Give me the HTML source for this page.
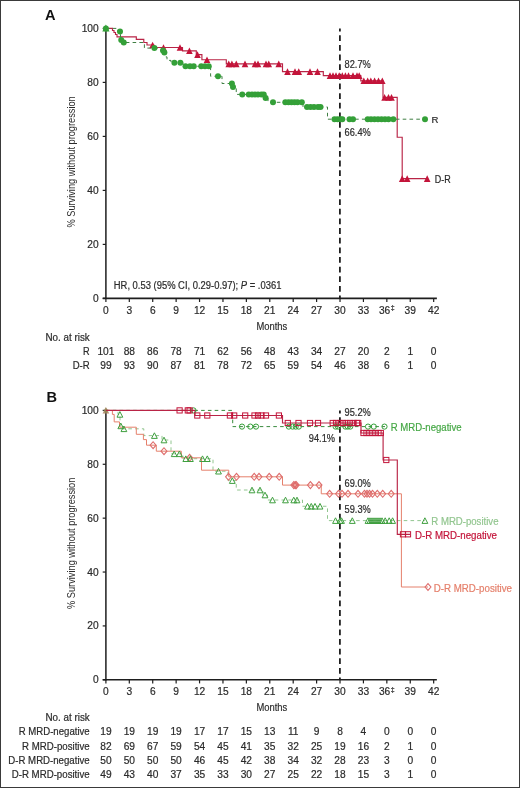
<!DOCTYPE html>
<html><head><meta charset="utf-8"><title>PFS</title>
<style>html,body{margin:0;padding:0;background:#fff;}body{width:520px;height:788px;overflow:hidden;}svg{display:block;will-change:transform;}</style>
</head><body>
<svg width="520" height="788" viewBox="0 0 520 788" font-family='"Liberation Sans", sans-serif'>
<rect x="0" y="0" width="520" height="788" fill="#fff"/>
<text x="45.00" y="20.00" font-size="14.6" text-anchor="start" fill="#111" font-weight="bold" >A</text>
<line x1="105.9" y1="28.40" x2="105.9" y2="299.10" stroke="#1e1e1e" stroke-width="1.5"/>
<line x1="102.70" y1="298.4" x2="436.87" y2="298.4" stroke="#1e1e1e" stroke-width="1.6"/>
<line x1="102.70" y1="298.40" x2="105.9" y2="298.40" stroke="#1e1e1e" stroke-width="1.2"/>
<text x="98.70" y="301.90" font-size="10.2" text-anchor="end" fill="#2b2b2b" stroke="#2b2b2b" stroke-width="0.2" >0</text>
<line x1="102.70" y1="244.40" x2="105.9" y2="244.40" stroke="#1e1e1e" stroke-width="1.2"/>
<text x="98.70" y="247.90" font-size="10.2" text-anchor="end" fill="#2b2b2b" stroke="#2b2b2b" stroke-width="0.2" >20</text>
<line x1="102.70" y1="190.40" x2="105.9" y2="190.40" stroke="#1e1e1e" stroke-width="1.2"/>
<text x="98.70" y="193.90" font-size="10.2" text-anchor="end" fill="#2b2b2b" stroke="#2b2b2b" stroke-width="0.2" >40</text>
<line x1="102.70" y1="136.40" x2="105.9" y2="136.40" stroke="#1e1e1e" stroke-width="1.2"/>
<text x="98.70" y="139.90" font-size="10.2" text-anchor="end" fill="#2b2b2b" stroke="#2b2b2b" stroke-width="0.2" >60</text>
<line x1="102.70" y1="82.40" x2="105.9" y2="82.40" stroke="#1e1e1e" stroke-width="1.2"/>
<text x="98.70" y="85.90" font-size="10.2" text-anchor="end" fill="#2b2b2b" stroke="#2b2b2b" stroke-width="0.2" >80</text>
<line x1="102.70" y1="28.40" x2="105.9" y2="28.40" stroke="#1e1e1e" stroke-width="1.2"/>
<text x="98.70" y="31.90" font-size="10.2" text-anchor="end" fill="#2b2b2b" stroke="#2b2b2b" stroke-width="0.2" >100</text>
<line x1="105.90" y1="298.4" x2="105.90" y2="302.00" stroke="#1e1e1e" stroke-width="1.2"/>
<text x="105.90" y="313.90" font-size="10.2" text-anchor="middle" fill="#2b2b2b" stroke="#2b2b2b" stroke-width="0.2" >0</text>
<line x1="129.31" y1="298.4" x2="129.31" y2="302.00" stroke="#1e1e1e" stroke-width="1.2"/>
<text x="129.31" y="313.90" font-size="10.2" text-anchor="middle" fill="#2b2b2b" stroke="#2b2b2b" stroke-width="0.2" >3</text>
<line x1="152.72" y1="298.4" x2="152.72" y2="302.00" stroke="#1e1e1e" stroke-width="1.2"/>
<text x="152.72" y="313.90" font-size="10.2" text-anchor="middle" fill="#2b2b2b" stroke="#2b2b2b" stroke-width="0.2" >6</text>
<line x1="176.14" y1="298.4" x2="176.14" y2="302.00" stroke="#1e1e1e" stroke-width="1.2"/>
<text x="176.14" y="313.90" font-size="10.2" text-anchor="middle" fill="#2b2b2b" stroke="#2b2b2b" stroke-width="0.2" >9</text>
<line x1="199.55" y1="298.4" x2="199.55" y2="302.00" stroke="#1e1e1e" stroke-width="1.2"/>
<text x="199.55" y="313.90" font-size="10.2" text-anchor="middle" fill="#2b2b2b" stroke="#2b2b2b" stroke-width="0.2" >12</text>
<line x1="222.96" y1="298.4" x2="222.96" y2="302.00" stroke="#1e1e1e" stroke-width="1.2"/>
<text x="222.96" y="313.90" font-size="10.2" text-anchor="middle" fill="#2b2b2b" stroke="#2b2b2b" stroke-width="0.2" >15</text>
<line x1="246.37" y1="298.4" x2="246.37" y2="302.00" stroke="#1e1e1e" stroke-width="1.2"/>
<text x="246.37" y="313.90" font-size="10.2" text-anchor="middle" fill="#2b2b2b" stroke="#2b2b2b" stroke-width="0.2" >18</text>
<line x1="269.78" y1="298.4" x2="269.78" y2="302.00" stroke="#1e1e1e" stroke-width="1.2"/>
<text x="269.78" y="313.90" font-size="10.2" text-anchor="middle" fill="#2b2b2b" stroke="#2b2b2b" stroke-width="0.2" >21</text>
<line x1="293.20" y1="298.4" x2="293.20" y2="302.00" stroke="#1e1e1e" stroke-width="1.2"/>
<text x="293.20" y="313.90" font-size="10.2" text-anchor="middle" fill="#2b2b2b" stroke="#2b2b2b" stroke-width="0.2" >24</text>
<line x1="316.61" y1="298.4" x2="316.61" y2="302.00" stroke="#1e1e1e" stroke-width="1.2"/>
<text x="316.61" y="313.90" font-size="10.2" text-anchor="middle" fill="#2b2b2b" stroke="#2b2b2b" stroke-width="0.2" >27</text>
<line x1="340.02" y1="298.4" x2="340.02" y2="302.00" stroke="#1e1e1e" stroke-width="1.2"/>
<text x="340.02" y="313.90" font-size="10.2" text-anchor="middle" fill="#2b2b2b" stroke="#2b2b2b" stroke-width="0.2" >30</text>
<line x1="363.43" y1="298.4" x2="363.43" y2="302.00" stroke="#1e1e1e" stroke-width="1.2"/>
<text x="363.43" y="313.90" font-size="10.2" text-anchor="middle" fill="#2b2b2b" stroke="#2b2b2b" stroke-width="0.2" >33</text>
<line x1="386.84" y1="298.4" x2="386.84" y2="302.00" stroke="#1e1e1e" stroke-width="1.2"/>
<text x="384.64" y="313.90" font-size="10.2" text-anchor="middle" fill="#2b2b2b" stroke="#2b2b2b" stroke-width="0.2" >36</text>
<text x="392.64" y="310.40" font-size="7.0" text-anchor="middle" fill="#2b2b2b" stroke="#2b2b2b" stroke-width="0.2" >&#8225;</text>
<line x1="410.26" y1="298.4" x2="410.26" y2="302.00" stroke="#1e1e1e" stroke-width="1.2"/>
<text x="410.26" y="313.90" font-size="10.2" text-anchor="middle" fill="#2b2b2b" stroke="#2b2b2b" stroke-width="0.2" >39</text>
<line x1="433.67" y1="298.4" x2="433.67" y2="302.00" stroke="#1e1e1e" stroke-width="1.2"/>
<text x="433.67" y="313.90" font-size="10.2" text-anchor="middle" fill="#2b2b2b" stroke="#2b2b2b" stroke-width="0.2" >42</text>
<text x="271.90" y="329.80" font-size="11.6" text-anchor="middle" fill="#2b2b2b" stroke="#2b2b2b" stroke-width="0.2" textLength="30.8" lengthAdjust="spacingAndGlyphs" >Months</text>
<text x="0" y="0" font-size="11" fill="#2b2b2b" text-anchor="middle" textLength="131.3" lengthAdjust="spacingAndGlyphs" transform="translate(75.4 161.90) rotate(-90)">% Surviving without progression</text>
<line x1="339.9" y1="28.40" x2="339.9" y2="298.40" stroke="#1e1e1e" stroke-width="1.8" stroke-dasharray="5.8 3.84" stroke-dashoffset="2.74"/>
<text x="113.8" y="289.3" font-size="10.0" fill="#2b2b2b" stroke="#2b2b2b" stroke-width="0.2" textLength="167.6" lengthAdjust="spacingAndGlyphs">HR, 0.53 (95% CI, 0.29-0.97); <tspan font-style="italic">P</tspan> = .0361</text>
<path d="M105.9,28.4 H112.5 V30.5 H114 V32.5 H115.5 V34.5 H117 V36.9 H136.3 V39.4 H143.8 V42.5 H147 V45 H153.8 V47.5 H182.5 V50.8 H196.3 V54.6 H201.9 V59.7 H226.3 V63.9 H282.5 V71.6 H323.3 V75.6 H360.8 V80.8 H383 V97.4 H397.2 V137.2 H402.2 V178.6 H427.2" fill="none" stroke="#b92446" stroke-width="1.15" />
<path d="M105.9,28.4 H118 V31.5 H120.5 V40 H122.5 V42.5 H144.4 V48.1 H161.5 V50.5 H163.5 V52.5 H165.5 V56.9 H167 V60.4 H171 V62.75 H183 V66.25 H210.6 V76.25 H222 V83.5 H232.5 V86.9 H236.25 V94.4 H264.5 V98 H268 V102.3 H303 V107 H327.5 V119.2 H425" fill="none" stroke="#3f7f43" stroke-width="1.0" stroke-dasharray="3.6 3.2" />
<polygon points="149.30,48.30 152.60,41.70 155.90,48.30" fill="#c3143a"/>
<polygon points="160.20,50.80 163.50,44.20 166.80,50.80" fill="#c3143a"/>
<polygon points="176.70,50.80 180.00,44.20 183.30,50.80" fill="#c3143a"/>
<polygon points="186.10,54.10 189.40,47.50 192.70,54.10" fill="#c3143a"/>
<polygon points="194.20,57.90 197.50,51.30 200.80,57.90" fill="#c3143a"/>
<polygon points="203.70,63.00 207.00,56.40 210.30,63.00" fill="#c3143a"/>
<polygon points="225.45,67.20 228.75,60.60 232.05,67.20" fill="#c3143a"/>
<polygon points="228.60,67.20 231.90,60.60 235.20,67.20" fill="#c3143a"/>
<polygon points="232.95,67.20 236.25,60.60 239.55,67.20" fill="#c3143a"/>
<polygon points="241.70,67.20 245.00,60.60 248.30,67.20" fill="#c3143a"/>
<polygon points="251.70,67.20 255.00,60.60 258.30,67.20" fill="#c3143a"/>
<polygon points="254.70,67.20 258.00,60.60 261.30,67.20" fill="#c3143a"/>
<polygon points="262.70,67.20 266.00,60.60 269.30,67.20" fill="#c3143a"/>
<polygon points="265.45,67.20 268.75,60.60 272.05,67.20" fill="#c3143a"/>
<polygon points="275.45,67.20 278.75,60.60 282.05,67.20" fill="#c3143a"/>
<polygon points="284.20,74.90 287.50,68.30 290.80,74.90" fill="#c3143a"/>
<polygon points="291.70,74.90 295.00,68.30 298.30,74.90" fill="#c3143a"/>
<polygon points="295.45,74.90 298.75,68.30 302.05,74.90" fill="#c3143a"/>
<polygon points="306.70,74.90 310.00,68.30 313.30,74.90" fill="#c3143a"/>
<polygon points="314.20,74.90 317.50,68.30 320.80,74.90" fill="#c3143a"/>
<polygon points="326.70,78.90 330.00,72.30 333.30,78.90" fill="#c3143a"/>
<polygon points="329.70,78.90 333.00,72.30 336.30,78.90" fill="#c3143a"/>
<polygon points="332.70,78.90 336.00,72.30 339.30,78.90" fill="#c3143a"/>
<polygon points="335.90,78.90 339.20,72.30 342.50,78.90" fill="#c3143a"/>
<polygon points="339.00,78.90 342.30,72.30 345.60,78.90" fill="#c3143a"/>
<polygon points="342.10,78.90 345.40,72.30 348.70,78.90" fill="#c3143a"/>
<polygon points="345.20,78.90 348.50,72.30 351.80,78.90" fill="#c3143a"/>
<polygon points="349.70,78.90 353.00,72.30 356.30,78.90" fill="#c3143a"/>
<polygon points="353.70,78.90 357.00,72.30 360.30,78.90" fill="#c3143a"/>
<polygon points="355.90,78.90 359.20,72.30 362.50,78.90" fill="#c3143a"/>
<polygon points="360.50,84.10 363.80,77.50 367.10,84.10" fill="#c3143a"/>
<polygon points="364.40,84.10 367.70,77.50 371.00,84.10" fill="#c3143a"/>
<polygon points="367.50,84.10 370.80,77.50 374.10,84.10" fill="#c3143a"/>
<polygon points="371.30,84.10 374.60,77.50 377.90,84.10" fill="#c3143a"/>
<polygon points="375.20,84.10 378.50,77.50 381.80,84.10" fill="#c3143a"/>
<polygon points="379.00,84.10 382.30,77.50 385.60,84.10" fill="#c3143a"/>
<polygon points="381.30,100.70 384.60,94.10 387.90,100.70" fill="#c3143a"/>
<polygon points="385.20,100.70 388.50,94.10 391.80,100.70" fill="#c3143a"/>
<polygon points="388.20,100.70 391.50,94.10 394.80,100.70" fill="#c3143a"/>
<polygon points="398.90,181.90 402.20,175.30 405.50,181.90" fill="#c3143a"/>
<polygon points="403.90,181.90 407.20,175.30 410.50,181.90" fill="#c3143a"/>
<polygon points="423.90,181.90 427.20,175.30 430.50,181.90" fill="#c3143a"/>
<polygon points="102.3,31.6 105.9,24.6 109.5,31.6" fill="#34a038"/>
<circle cx="105.90" cy="28.40" r="3.0" fill="#34a038"/>
<circle cx="120.00" cy="31.50" r="3.0" fill="#34a038"/>
<circle cx="121.25" cy="40.00" r="3.0" fill="#34a038"/>
<circle cx="123.75" cy="42.50" r="3.0" fill="#34a038"/>
<circle cx="154.40" cy="48.10" r="3.0" fill="#34a038"/>
<circle cx="163.00" cy="50.50" r="3.0" fill="#34a038"/>
<circle cx="164.40" cy="52.50" r="3.0" fill="#34a038"/>
<circle cx="174.40" cy="62.75" r="3.0" fill="#34a038"/>
<circle cx="180.40" cy="62.75" r="3.0" fill="#34a038"/>
<circle cx="185.50" cy="66.25" r="3.0" fill="#34a038"/>
<circle cx="190.00" cy="66.25" r="3.0" fill="#34a038"/>
<circle cx="193.75" cy="66.25" r="3.0" fill="#34a038"/>
<circle cx="201.25" cy="66.25" r="3.0" fill="#34a038"/>
<circle cx="205.00" cy="66.25" r="3.0" fill="#34a038"/>
<circle cx="208.75" cy="66.25" r="3.0" fill="#34a038"/>
<circle cx="218.00" cy="76.25" r="3.0" fill="#34a038"/>
<circle cx="231.90" cy="83.50" r="3.0" fill="#34a038"/>
<circle cx="233.00" cy="86.90" r="3.0" fill="#34a038"/>
<circle cx="242.25" cy="94.40" r="3.0" fill="#34a038"/>
<circle cx="248.75" cy="94.40" r="3.0" fill="#34a038"/>
<circle cx="252.00" cy="94.40" r="3.0" fill="#34a038"/>
<circle cx="255.00" cy="94.40" r="3.0" fill="#34a038"/>
<circle cx="258.00" cy="94.40" r="3.0" fill="#34a038"/>
<circle cx="261.40" cy="94.40" r="3.0" fill="#34a038"/>
<circle cx="263.75" cy="94.40" r="3.0" fill="#34a038"/>
<circle cx="265.60" cy="98.00" r="3.0" fill="#34a038"/>
<circle cx="273.00" cy="102.30" r="3.0" fill="#34a038"/>
<circle cx="285.30" cy="102.30" r="3.0" fill="#34a038"/>
<circle cx="288.50" cy="102.30" r="3.0" fill="#34a038"/>
<circle cx="291.50" cy="102.30" r="3.0" fill="#34a038"/>
<circle cx="294.50" cy="102.30" r="3.0" fill="#34a038"/>
<circle cx="297.50" cy="102.30" r="3.0" fill="#34a038"/>
<circle cx="301.80" cy="102.30" r="3.0" fill="#34a038"/>
<circle cx="307.00" cy="107.00" r="3.0" fill="#34a038"/>
<circle cx="310.50" cy="107.00" r="3.0" fill="#34a038"/>
<circle cx="314.00" cy="107.00" r="3.0" fill="#34a038"/>
<circle cx="318.00" cy="107.00" r="3.0" fill="#34a038"/>
<circle cx="320.50" cy="107.00" r="3.0" fill="#34a038"/>
<circle cx="334.50" cy="119.20" r="3.0" fill="#34a038"/>
<circle cx="337.50" cy="119.20" r="3.0" fill="#34a038"/>
<circle cx="340.50" cy="119.20" r="3.0" fill="#34a038"/>
<circle cx="342.30" cy="119.20" r="3.0" fill="#34a038"/>
<circle cx="349.50" cy="119.20" r="3.0" fill="#34a038"/>
<circle cx="353.00" cy="119.20" r="3.0" fill="#34a038"/>
<circle cx="367.70" cy="119.20" r="3.0" fill="#34a038"/>
<circle cx="371.00" cy="119.20" r="3.0" fill="#34a038"/>
<circle cx="374.50" cy="119.20" r="3.0" fill="#34a038"/>
<circle cx="378.00" cy="119.20" r="3.0" fill="#34a038"/>
<circle cx="381.50" cy="119.20" r="3.0" fill="#34a038"/>
<circle cx="385.00" cy="119.20" r="3.0" fill="#34a038"/>
<circle cx="388.50" cy="119.20" r="3.0" fill="#34a038"/>
<circle cx="393.30" cy="119.20" r="3.0" fill="#34a038"/>
<circle cx="425.00" cy="119.20" r="3.0" fill="#34a038"/>
<text x="344.60" y="67.60" font-size="10.2" text-anchor="start" fill="#2b2b2b" stroke="#2b2b2b" stroke-width="0.2" textLength="26.2" lengthAdjust="spacingAndGlyphs" >82.7%</text>
<text x="344.60" y="135.50" font-size="10.2" text-anchor="start" fill="#2b2b2b" stroke="#2b2b2b" stroke-width="0.2" textLength="26.2" lengthAdjust="spacingAndGlyphs" >66.4%</text>
<text x="431.40" y="123.00" font-size="9.6" text-anchor="start" fill="#2b2b2b" stroke="#2b2b2b" stroke-width="0.2" >R</text>
<text x="434.80" y="182.60" font-size="10.2" text-anchor="start" fill="#2b2b2b" stroke="#2b2b2b" stroke-width="0.2" textLength="16.0" lengthAdjust="spacingAndGlyphs" >D-R</text>
<text x="89.70" y="340.90" font-size="10.2" text-anchor="end" fill="#2b2b2b" stroke="#2b2b2b" stroke-width="0.2" textLength="44.2" lengthAdjust="spacingAndGlyphs" >No. at risk</text>
<text x="89.70" y="355.40" font-size="10.2" text-anchor="end" fill="#2b2b2b" stroke="#2b2b2b" stroke-width="0.2" textLength="6.6" lengthAdjust="spacingAndGlyphs" >R</text>
<text x="89.70" y="369.40" font-size="10.2" text-anchor="end" fill="#2b2b2b" stroke="#2b2b2b" stroke-width="0.2" textLength="17.0" lengthAdjust="spacingAndGlyphs" >D-R</text>
<text x="105.90" y="355.40" font-size="10.2" text-anchor="middle" fill="#2b2b2b" stroke="#2b2b2b" stroke-width="0.2" >101</text>
<text x="105.90" y="369.40" font-size="10.2" text-anchor="middle" fill="#2b2b2b" stroke="#2b2b2b" stroke-width="0.2" >99</text>
<text x="129.31" y="355.40" font-size="10.2" text-anchor="middle" fill="#2b2b2b" stroke="#2b2b2b" stroke-width="0.2" >88</text>
<text x="129.31" y="369.40" font-size="10.2" text-anchor="middle" fill="#2b2b2b" stroke="#2b2b2b" stroke-width="0.2" >93</text>
<text x="152.72" y="355.40" font-size="10.2" text-anchor="middle" fill="#2b2b2b" stroke="#2b2b2b" stroke-width="0.2" >86</text>
<text x="152.72" y="369.40" font-size="10.2" text-anchor="middle" fill="#2b2b2b" stroke="#2b2b2b" stroke-width="0.2" >90</text>
<text x="176.14" y="355.40" font-size="10.2" text-anchor="middle" fill="#2b2b2b" stroke="#2b2b2b" stroke-width="0.2" >78</text>
<text x="176.14" y="369.40" font-size="10.2" text-anchor="middle" fill="#2b2b2b" stroke="#2b2b2b" stroke-width="0.2" >87</text>
<text x="199.55" y="355.40" font-size="10.2" text-anchor="middle" fill="#2b2b2b" stroke="#2b2b2b" stroke-width="0.2" >71</text>
<text x="199.55" y="369.40" font-size="10.2" text-anchor="middle" fill="#2b2b2b" stroke="#2b2b2b" stroke-width="0.2" >81</text>
<text x="222.96" y="355.40" font-size="10.2" text-anchor="middle" fill="#2b2b2b" stroke="#2b2b2b" stroke-width="0.2" >62</text>
<text x="222.96" y="369.40" font-size="10.2" text-anchor="middle" fill="#2b2b2b" stroke="#2b2b2b" stroke-width="0.2" >78</text>
<text x="246.37" y="355.40" font-size="10.2" text-anchor="middle" fill="#2b2b2b" stroke="#2b2b2b" stroke-width="0.2" >56</text>
<text x="246.37" y="369.40" font-size="10.2" text-anchor="middle" fill="#2b2b2b" stroke="#2b2b2b" stroke-width="0.2" >72</text>
<text x="269.78" y="355.40" font-size="10.2" text-anchor="middle" fill="#2b2b2b" stroke="#2b2b2b" stroke-width="0.2" >48</text>
<text x="269.78" y="369.40" font-size="10.2" text-anchor="middle" fill="#2b2b2b" stroke="#2b2b2b" stroke-width="0.2" >65</text>
<text x="293.20" y="355.40" font-size="10.2" text-anchor="middle" fill="#2b2b2b" stroke="#2b2b2b" stroke-width="0.2" >43</text>
<text x="293.20" y="369.40" font-size="10.2" text-anchor="middle" fill="#2b2b2b" stroke="#2b2b2b" stroke-width="0.2" >59</text>
<text x="316.61" y="355.40" font-size="10.2" text-anchor="middle" fill="#2b2b2b" stroke="#2b2b2b" stroke-width="0.2" >34</text>
<text x="316.61" y="369.40" font-size="10.2" text-anchor="middle" fill="#2b2b2b" stroke="#2b2b2b" stroke-width="0.2" >54</text>
<text x="340.02" y="355.40" font-size="10.2" text-anchor="middle" fill="#2b2b2b" stroke="#2b2b2b" stroke-width="0.2" >27</text>
<text x="340.02" y="369.40" font-size="10.2" text-anchor="middle" fill="#2b2b2b" stroke="#2b2b2b" stroke-width="0.2" >46</text>
<text x="363.43" y="355.40" font-size="10.2" text-anchor="middle" fill="#2b2b2b" stroke="#2b2b2b" stroke-width="0.2" >20</text>
<text x="363.43" y="369.40" font-size="10.2" text-anchor="middle" fill="#2b2b2b" stroke="#2b2b2b" stroke-width="0.2" >38</text>
<text x="386.84" y="355.40" font-size="10.2" text-anchor="middle" fill="#2b2b2b" stroke="#2b2b2b" stroke-width="0.2" >2</text>
<text x="386.84" y="369.40" font-size="10.2" text-anchor="middle" fill="#2b2b2b" stroke="#2b2b2b" stroke-width="0.2" >6</text>
<text x="410.26" y="355.40" font-size="10.2" text-anchor="middle" fill="#2b2b2b" stroke="#2b2b2b" stroke-width="0.2" >1</text>
<text x="410.26" y="369.40" font-size="10.2" text-anchor="middle" fill="#2b2b2b" stroke="#2b2b2b" stroke-width="0.2" >1</text>
<text x="433.67" y="355.40" font-size="10.2" text-anchor="middle" fill="#2b2b2b" stroke="#2b2b2b" stroke-width="0.2" >0</text>
<text x="433.67" y="369.40" font-size="10.2" text-anchor="middle" fill="#2b2b2b" stroke="#2b2b2b" stroke-width="0.2" >0</text>
<text x="46.60" y="401.50" font-size="14.6" text-anchor="start" fill="#111" font-weight="bold" >B</text>
<line x1="105.9" y1="410.40" x2="105.9" y2="680.50" stroke="#1e1e1e" stroke-width="1.5"/>
<line x1="102.70" y1="679.8" x2="436.87" y2="679.8" stroke="#1e1e1e" stroke-width="1.6"/>
<line x1="102.70" y1="679.80" x2="105.9" y2="679.80" stroke="#1e1e1e" stroke-width="1.2"/>
<text x="98.70" y="683.30" font-size="10.2" text-anchor="end" fill="#2b2b2b" stroke="#2b2b2b" stroke-width="0.2" >0</text>
<line x1="102.70" y1="625.92" x2="105.9" y2="625.92" stroke="#1e1e1e" stroke-width="1.2"/>
<text x="98.70" y="629.42" font-size="10.2" text-anchor="end" fill="#2b2b2b" stroke="#2b2b2b" stroke-width="0.2" >20</text>
<line x1="102.70" y1="572.04" x2="105.9" y2="572.04" stroke="#1e1e1e" stroke-width="1.2"/>
<text x="98.70" y="575.54" font-size="10.2" text-anchor="end" fill="#2b2b2b" stroke="#2b2b2b" stroke-width="0.2" >40</text>
<line x1="102.70" y1="518.16" x2="105.9" y2="518.16" stroke="#1e1e1e" stroke-width="1.2"/>
<text x="98.70" y="521.66" font-size="10.2" text-anchor="end" fill="#2b2b2b" stroke="#2b2b2b" stroke-width="0.2" >60</text>
<line x1="102.70" y1="464.28" x2="105.9" y2="464.28" stroke="#1e1e1e" stroke-width="1.2"/>
<text x="98.70" y="467.78" font-size="10.2" text-anchor="end" fill="#2b2b2b" stroke="#2b2b2b" stroke-width="0.2" >80</text>
<line x1="102.70" y1="410.40" x2="105.9" y2="410.40" stroke="#1e1e1e" stroke-width="1.2"/>
<text x="98.70" y="413.90" font-size="10.2" text-anchor="end" fill="#2b2b2b" stroke="#2b2b2b" stroke-width="0.2" >100</text>
<line x1="105.90" y1="679.8" x2="105.90" y2="683.40" stroke="#1e1e1e" stroke-width="1.2"/>
<text x="105.90" y="695.30" font-size="10.2" text-anchor="middle" fill="#2b2b2b" stroke="#2b2b2b" stroke-width="0.2" >0</text>
<line x1="129.31" y1="679.8" x2="129.31" y2="683.40" stroke="#1e1e1e" stroke-width="1.2"/>
<text x="129.31" y="695.30" font-size="10.2" text-anchor="middle" fill="#2b2b2b" stroke="#2b2b2b" stroke-width="0.2" >3</text>
<line x1="152.72" y1="679.8" x2="152.72" y2="683.40" stroke="#1e1e1e" stroke-width="1.2"/>
<text x="152.72" y="695.30" font-size="10.2" text-anchor="middle" fill="#2b2b2b" stroke="#2b2b2b" stroke-width="0.2" >6</text>
<line x1="176.14" y1="679.8" x2="176.14" y2="683.40" stroke="#1e1e1e" stroke-width="1.2"/>
<text x="176.14" y="695.30" font-size="10.2" text-anchor="middle" fill="#2b2b2b" stroke="#2b2b2b" stroke-width="0.2" >9</text>
<line x1="199.55" y1="679.8" x2="199.55" y2="683.40" stroke="#1e1e1e" stroke-width="1.2"/>
<text x="199.55" y="695.30" font-size="10.2" text-anchor="middle" fill="#2b2b2b" stroke="#2b2b2b" stroke-width="0.2" >12</text>
<line x1="222.96" y1="679.8" x2="222.96" y2="683.40" stroke="#1e1e1e" stroke-width="1.2"/>
<text x="222.96" y="695.30" font-size="10.2" text-anchor="middle" fill="#2b2b2b" stroke="#2b2b2b" stroke-width="0.2" >15</text>
<line x1="246.37" y1="679.8" x2="246.37" y2="683.40" stroke="#1e1e1e" stroke-width="1.2"/>
<text x="246.37" y="695.30" font-size="10.2" text-anchor="middle" fill="#2b2b2b" stroke="#2b2b2b" stroke-width="0.2" >18</text>
<line x1="269.78" y1="679.8" x2="269.78" y2="683.40" stroke="#1e1e1e" stroke-width="1.2"/>
<text x="269.78" y="695.30" font-size="10.2" text-anchor="middle" fill="#2b2b2b" stroke="#2b2b2b" stroke-width="0.2" >21</text>
<line x1="293.20" y1="679.8" x2="293.20" y2="683.40" stroke="#1e1e1e" stroke-width="1.2"/>
<text x="293.20" y="695.30" font-size="10.2" text-anchor="middle" fill="#2b2b2b" stroke="#2b2b2b" stroke-width="0.2" >24</text>
<line x1="316.61" y1="679.8" x2="316.61" y2="683.40" stroke="#1e1e1e" stroke-width="1.2"/>
<text x="316.61" y="695.30" font-size="10.2" text-anchor="middle" fill="#2b2b2b" stroke="#2b2b2b" stroke-width="0.2" >27</text>
<line x1="340.02" y1="679.8" x2="340.02" y2="683.40" stroke="#1e1e1e" stroke-width="1.2"/>
<text x="340.02" y="695.30" font-size="10.2" text-anchor="middle" fill="#2b2b2b" stroke="#2b2b2b" stroke-width="0.2" >30</text>
<line x1="363.43" y1="679.8" x2="363.43" y2="683.40" stroke="#1e1e1e" stroke-width="1.2"/>
<text x="363.43" y="695.30" font-size="10.2" text-anchor="middle" fill="#2b2b2b" stroke="#2b2b2b" stroke-width="0.2" >33</text>
<line x1="386.84" y1="679.8" x2="386.84" y2="683.40" stroke="#1e1e1e" stroke-width="1.2"/>
<text x="384.64" y="695.30" font-size="10.2" text-anchor="middle" fill="#2b2b2b" stroke="#2b2b2b" stroke-width="0.2" >36</text>
<text x="392.64" y="691.80" font-size="7.0" text-anchor="middle" fill="#2b2b2b" stroke="#2b2b2b" stroke-width="0.2" >&#8225;</text>
<line x1="410.26" y1="679.8" x2="410.26" y2="683.40" stroke="#1e1e1e" stroke-width="1.2"/>
<text x="410.26" y="695.30" font-size="10.2" text-anchor="middle" fill="#2b2b2b" stroke="#2b2b2b" stroke-width="0.2" >39</text>
<line x1="433.67" y1="679.8" x2="433.67" y2="683.40" stroke="#1e1e1e" stroke-width="1.2"/>
<text x="433.67" y="695.30" font-size="10.2" text-anchor="middle" fill="#2b2b2b" stroke="#2b2b2b" stroke-width="0.2" >42</text>
<text x="271.90" y="711.20" font-size="11.6" text-anchor="middle" fill="#2b2b2b" stroke="#2b2b2b" stroke-width="0.2" textLength="30.8" lengthAdjust="spacingAndGlyphs" >Months</text>
<text x="0" y="0" font-size="11" fill="#2b2b2b" text-anchor="middle" textLength="131.3" lengthAdjust="spacingAndGlyphs" transform="translate(75.4 543.30) rotate(-90)">% Surviving without progression</text>
<line x1="339.9" y1="410.40" x2="339.9" y2="679.80" stroke="#1e1e1e" stroke-width="1.8" stroke-dasharray="5.8 3.84" stroke-dashoffset="2.74"/>
<polygon points="102.6,413.4 105.9,406.9 109.2,413.4" fill="#a9825c" opacity="0.85"/>
<polygon points="103.2,410.6 105.9,407.6 108.6,410.6 105.9,413.6" fill="#8c8a55" opacity="0.5"/>
<path d="M105.9,410.40 H118 V414.4 H120 V425.9 H122.5 V428.8 H143.8 V435.6 H162 V440 H171 V453.8 H183 V458.7 H213 V471.2 H228 V480.6 H236.25 V490 H263 V495 H267.5 V500 H302.5 V506.25 H327.5 V520.6 H425" fill="none" stroke="#86c083" stroke-width="0.9" stroke-dasharray="3.6 3.2" />
<path d="M105.9,410.40 H232.7 V426.6 H385" fill="none" stroke="#3a8a3e" stroke-width="1.0" stroke-dasharray="3.6 3.2" />
<path d="M105.9,410.40 H112.4 V414.4 H114.2 V421.9 H119.5 V427.2 H136.3 V434.3 H143.4 V439.6 H146.5 V445.2 H156.3 V451.2 H181.3 V457.8 H201.5 V470.2 H228.75 V476.8 H282.5 V485.1 H321.25 V493.8 H401.4 V587 H428" fill="none" stroke="#e5806c" stroke-width="1.0" />
<path d="M105.9,410.40 H195 V415.5 H282.5 V423.0 H361 V433 H383.1 V460 H397.3 V534.3 H410" fill="none" stroke="#b92446" stroke-width="1.15" />
<polygon points="150.15,445.20 153.10,441.75 156.05,445.20 153.10,448.65" fill="none" stroke="#de6c6c" stroke-width="1.1"/>
<polygon points="161.05,451.20 164.00,447.75 166.95,451.20 164.00,454.65" fill="none" stroke="#de6c6c" stroke-width="1.1"/>
<polygon points="186.65,457.80 189.60,454.35 192.55,457.80 189.60,461.25" fill="none" stroke="#de6c6c" stroke-width="1.1"/>
<polygon points="225.55,476.80 228.50,473.35 231.45,476.80 228.50,480.25" fill="none" stroke="#de6c6c" stroke-width="1.1"/>
<polygon points="233.55,476.80 236.50,473.35 239.45,476.80 236.50,480.25" fill="none" stroke="#de6c6c" stroke-width="1.1"/>
<polygon points="251.25,476.80 254.20,473.35 257.15,476.80 254.20,480.25" fill="none" stroke="#de6c6c" stroke-width="1.1"/>
<polygon points="256.05,476.80 259.00,473.35 261.95,476.80 259.00,480.25" fill="none" stroke="#de6c6c" stroke-width="1.1"/>
<polygon points="266.25,476.80 269.20,473.35 272.15,476.80 269.20,480.25" fill="none" stroke="#de6c6c" stroke-width="1.1"/>
<polygon points="276.25,476.80 279.20,473.35 282.15,476.80 279.20,480.25" fill="none" stroke="#de6c6c" stroke-width="1.1"/>
<polygon points="290.85,485.10 293.80,481.65 296.75,485.10 293.80,488.55" fill="none" stroke="#de6c6c" stroke-width="1.1"/>
<polygon points="292.25,485.10 295.20,481.65 298.15,485.10 295.20,488.55" fill="none" stroke="#de6c6c" stroke-width="1.1"/>
<polygon points="293.25,485.10 296.20,481.65 299.15,485.10 296.20,488.55" fill="none" stroke="#de6c6c" stroke-width="1.1"/>
<polygon points="307.45,485.10 310.40,481.65 313.35,485.10 310.40,488.55" fill="none" stroke="#de6c6c" stroke-width="1.1"/>
<polygon points="316.05,485.10 319.00,481.65 321.95,485.10 319.00,488.55" fill="none" stroke="#de6c6c" stroke-width="1.1"/>
<polygon points="425.05,587.00 428.00,583.55 430.95,587.00 428.00,590.45" fill="none" stroke="#de6c6c" stroke-width="1.1"/>
<polygon points="326.65,493.80 329.60,490.35 332.55,493.80 329.60,497.25" fill="none" stroke="#de6c6c" stroke-width="1.1"/>
<polygon points="335.55,493.80 338.50,490.35 341.45,493.80 338.50,497.25" fill="none" stroke="#de6c6c" stroke-width="1.1"/>
<polygon points="339.05,493.80 342.00,490.35 344.95,493.80 342.00,497.25" fill="none" stroke="#de6c6c" stroke-width="1.1"/>
<polygon points="345.05,493.80 348.00,490.35 350.95,493.80 348.00,497.25" fill="none" stroke="#de6c6c" stroke-width="1.1"/>
<polygon points="355.05,493.80 358.00,490.35 360.95,493.80 358.00,497.25" fill="none" stroke="#de6c6c" stroke-width="1.1"/>
<polygon points="361.55,493.80 364.50,490.35 367.45,493.80 364.50,497.25" fill="none" stroke="#de6c6c" stroke-width="1.1"/>
<polygon points="364.05,493.80 367.00,490.35 369.95,493.80 367.00,497.25" fill="none" stroke="#de6c6c" stroke-width="1.1"/>
<polygon points="366.55,493.80 369.50,490.35 372.45,493.80 369.50,497.25" fill="none" stroke="#de6c6c" stroke-width="1.1"/>
<polygon points="369.55,493.80 372.50,490.35 375.45,493.80 372.50,497.25" fill="none" stroke="#de6c6c" stroke-width="1.1"/>
<polygon points="374.35,493.80 377.30,490.35 380.25,493.80 377.30,497.25" fill="none" stroke="#de6c6c" stroke-width="1.1"/>
<polygon points="379.75,493.80 382.70,490.35 385.65,493.80 382.70,497.25" fill="none" stroke="#de6c6c" stroke-width="1.1"/>
<polygon points="388.25,493.80 391.20,490.35 394.15,493.80 391.20,497.25" fill="none" stroke="#de6c6c" stroke-width="1.1"/>
<polygon points="117.00,417.20 119.90,411.60 122.80,417.20" fill="none" stroke="#3f9f3f" stroke-width="1.0"/>
<polygon points="117.90,428.70 120.80,423.10 123.70,428.70" fill="none" stroke="#3f9f3f" stroke-width="1.0"/>
<polygon points="121.00,431.60 123.90,426.00 126.80,431.60" fill="none" stroke="#3f9f3f" stroke-width="1.0"/>
<polygon points="151.50,438.40 154.40,432.80 157.30,438.40" fill="none" stroke="#3f9f3f" stroke-width="1.0"/>
<polygon points="161.10,442.80 164.00,437.20 166.90,442.80" fill="none" stroke="#3f9f3f" stroke-width="1.0"/>
<polygon points="171.30,456.60 174.20,451.00 177.10,456.60" fill="none" stroke="#3f9f3f" stroke-width="1.0"/>
<polygon points="176.50,456.60 179.40,451.00 182.30,456.60" fill="none" stroke="#3f9f3f" stroke-width="1.0"/>
<polygon points="182.90,461.50 185.80,455.90 188.70,461.50" fill="none" stroke="#3f9f3f" stroke-width="1.0"/>
<polygon points="187.50,461.50 190.40,455.90 193.30,461.50" fill="none" stroke="#3f9f3f" stroke-width="1.0"/>
<polygon points="199.60,461.50 202.50,455.90 205.40,461.50" fill="none" stroke="#3f9f3f" stroke-width="1.0"/>
<polygon points="204.40,461.50 207.30,455.90 210.20,461.50" fill="none" stroke="#3f9f3f" stroke-width="1.0"/>
<polygon points="215.60,474.00 218.50,468.40 221.40,474.00" fill="none" stroke="#3f9f3f" stroke-width="1.0"/>
<polygon points="229.40,483.40 232.30,477.80 235.20,483.40" fill="none" stroke="#3f9f3f" stroke-width="1.0"/>
<polygon points="249.10,492.80 252.00,487.20 254.90,492.80" fill="none" stroke="#3f9f3f" stroke-width="1.0"/>
<polygon points="257.10,492.80 260.00,487.20 262.90,492.80" fill="none" stroke="#3f9f3f" stroke-width="1.0"/>
<polygon points="262.10,497.80 265.00,492.20 267.90,497.80" fill="none" stroke="#3f9f3f" stroke-width="1.0"/>
<polygon points="269.60,502.80 272.50,497.20 275.40,502.80" fill="none" stroke="#3f9f3f" stroke-width="1.0"/>
<polygon points="282.60,502.80 285.50,497.20 288.40,502.80" fill="none" stroke="#3f9f3f" stroke-width="1.0"/>
<polygon points="290.85,502.80 293.75,497.20 296.65,502.80" fill="none" stroke="#3f9f3f" stroke-width="1.0"/>
<polygon points="294.10,502.80 297.00,497.20 299.90,502.80" fill="none" stroke="#3f9f3f" stroke-width="1.0"/>
<polygon points="304.60,509.05 307.50,503.45 310.40,509.05" fill="none" stroke="#3f9f3f" stroke-width="1.0"/>
<polygon points="308.35,509.05 311.25,503.45 314.15,509.05" fill="none" stroke="#3f9f3f" stroke-width="1.0"/>
<polygon points="312.10,509.05 315.00,503.45 317.90,509.05" fill="none" stroke="#3f9f3f" stroke-width="1.0"/>
<polygon points="317.10,509.05 320.00,503.45 322.90,509.05" fill="none" stroke="#3f9f3f" stroke-width="1.0"/>
<polygon points="332.60,523.40 335.50,517.80 338.40,523.40" fill="none" stroke="#3f9f3f" stroke-width="1.0"/>
<polygon points="337.10,523.40 340.00,517.80 342.90,523.40" fill="none" stroke="#3f9f3f" stroke-width="1.0"/>
<polygon points="338.60,523.40 341.50,517.80 344.40,523.40" fill="none" stroke="#3f9f3f" stroke-width="1.0"/>
<polygon points="349.40,523.40 352.30,517.80 355.20,523.40" fill="none" stroke="#3f9f3f" stroke-width="1.0"/>
<polygon points="365.10,523.40 368.00,517.80 370.90,523.40" fill="none" stroke="#3f9f3f" stroke-width="1.0"/>
<polygon points="367.10,523.40 370.00,517.80 372.90,523.40" fill="none" stroke="#3f9f3f" stroke-width="1.0"/>
<polygon points="369.10,523.40 372.00,517.80 374.90,523.40" fill="none" stroke="#3f9f3f" stroke-width="1.0"/>
<polygon points="371.10,523.40 374.00,517.80 376.90,523.40" fill="none" stroke="#3f9f3f" stroke-width="1.0"/>
<polygon points="373.10,523.40 376.00,517.80 378.90,523.40" fill="none" stroke="#3f9f3f" stroke-width="1.0"/>
<polygon points="375.10,523.40 378.00,517.80 380.90,523.40" fill="none" stroke="#3f9f3f" stroke-width="1.0"/>
<polygon points="377.10,523.40 380.00,517.80 382.90,523.40" fill="none" stroke="#3f9f3f" stroke-width="1.0"/>
<polygon points="379.10,523.40 382.00,517.80 384.90,523.40" fill="none" stroke="#3f9f3f" stroke-width="1.0"/>
<polygon points="382.30,523.40 385.20,517.80 388.10,523.40" fill="none" stroke="#3f9f3f" stroke-width="1.0"/>
<polygon points="386.30,523.40 389.20,517.80 392.10,523.40" fill="none" stroke="#3f9f3f" stroke-width="1.0"/>
<polygon points="389.70,523.40 392.60,517.80 395.50,523.40" fill="none" stroke="#3f9f3f" stroke-width="1.0"/>
<polygon points="422.00,523.40 424.90,517.80 427.80,523.40" fill="none" stroke="#3f9f3f" stroke-width="1.0"/>
<circle cx="193.50" cy="410.40" r="2.6" fill="none" stroke="#34a038" stroke-width="1.0"/>
<circle cx="242.00" cy="426.60" r="2.6" fill="none" stroke="#34a038" stroke-width="1.0"/>
<circle cx="250.30" cy="426.60" r="2.6" fill="none" stroke="#34a038" stroke-width="1.0"/>
<circle cx="256.00" cy="426.60" r="2.6" fill="none" stroke="#34a038" stroke-width="1.0"/>
<circle cx="288.80" cy="426.60" r="2.6" fill="none" stroke="#34a038" stroke-width="1.0"/>
<circle cx="292.60" cy="426.60" r="2.6" fill="none" stroke="#34a038" stroke-width="1.0"/>
<circle cx="295.70" cy="426.60" r="2.6" fill="none" stroke="#34a038" stroke-width="1.0"/>
<circle cx="298.80" cy="426.60" r="2.6" fill="none" stroke="#34a038" stroke-width="1.0"/>
<circle cx="335.60" cy="426.60" r="2.6" fill="none" stroke="#34a038" stroke-width="1.0"/>
<circle cx="338.00" cy="426.60" r="2.6" fill="none" stroke="#34a038" stroke-width="1.0"/>
<circle cx="345.40" cy="426.60" r="2.6" fill="none" stroke="#34a038" stroke-width="1.0"/>
<circle cx="347.80" cy="426.60" r="2.6" fill="none" stroke="#34a038" stroke-width="1.0"/>
<circle cx="350.30" cy="426.60" r="2.6" fill="none" stroke="#34a038" stroke-width="1.0"/>
<circle cx="368.00" cy="426.60" r="2.6" fill="none" stroke="#34a038" stroke-width="1.0"/>
<circle cx="373.80" cy="426.60" r="2.6" fill="none" stroke="#34a038" stroke-width="1.0"/>
<circle cx="384.50" cy="426.60" r="2.6" fill="none" stroke="#34a038" stroke-width="1.0"/>
<rect x="177.00" y="407.80" width="5.2" height="5.2" fill="none" stroke="#c3143a" stroke-width="1.0"/>
<rect x="185.20" y="407.80" width="5.2" height="5.2" fill="none" stroke="#c3143a" stroke-width="1.0"/>
<rect x="187.00" y="407.80" width="5.2" height="5.2" fill="none" stroke="#c3143a" stroke-width="1.0"/>
<rect x="194.70" y="412.90" width="5.2" height="5.2" fill="none" stroke="#c3143a" stroke-width="1.0"/>
<rect x="204.70" y="412.90" width="5.2" height="5.2" fill="none" stroke="#c3143a" stroke-width="1.0"/>
<rect x="227.30" y="412.90" width="5.2" height="5.2" fill="none" stroke="#c3143a" stroke-width="1.0"/>
<rect x="231.60" y="412.90" width="5.2" height="5.2" fill="none" stroke="#c3143a" stroke-width="1.0"/>
<rect x="242.60" y="412.90" width="5.2" height="5.2" fill="none" stroke="#c3143a" stroke-width="1.0"/>
<rect x="251.90" y="412.90" width="5.2" height="5.2" fill="none" stroke="#c3143a" stroke-width="1.0"/>
<rect x="255.40" y="412.90" width="5.2" height="5.2" fill="none" stroke="#c3143a" stroke-width="1.0"/>
<rect x="258.90" y="412.90" width="5.2" height="5.2" fill="none" stroke="#c3143a" stroke-width="1.0"/>
<rect x="263.40" y="412.90" width="5.2" height="5.2" fill="none" stroke="#c3143a" stroke-width="1.0"/>
<rect x="276.30" y="412.90" width="5.2" height="5.2" fill="none" stroke="#c3143a" stroke-width="1.0"/>
<rect x="285.20" y="420.40" width="5.2" height="5.2" fill="none" stroke="#c3143a" stroke-width="1.0"/>
<rect x="295.90" y="420.40" width="5.2" height="5.2" fill="none" stroke="#c3143a" stroke-width="1.0"/>
<rect x="307.40" y="420.40" width="5.2" height="5.2" fill="none" stroke="#c3143a" stroke-width="1.0"/>
<rect x="315.40" y="420.40" width="5.2" height="5.2" fill="none" stroke="#c3143a" stroke-width="1.0"/>
<rect x="330.10" y="420.40" width="5.2" height="5.2" fill="none" stroke="#c3143a" stroke-width="1.0"/>
<rect x="333.40" y="420.40" width="5.2" height="5.2" fill="none" stroke="#c3143a" stroke-width="1.0"/>
<rect x="336.90" y="420.40" width="5.2" height="5.2" fill="none" stroke="#c3143a" stroke-width="1.0"/>
<rect x="340.40" y="420.40" width="5.2" height="5.2" fill="none" stroke="#c3143a" stroke-width="1.0"/>
<rect x="343.90" y="420.40" width="5.2" height="5.2" fill="none" stroke="#c3143a" stroke-width="1.0"/>
<rect x="347.40" y="420.40" width="5.2" height="5.2" fill="none" stroke="#c3143a" stroke-width="1.0"/>
<rect x="350.90" y="420.40" width="5.2" height="5.2" fill="none" stroke="#c3143a" stroke-width="1.0"/>
<rect x="354.40" y="420.40" width="5.2" height="5.2" fill="none" stroke="#c3143a" stroke-width="1.0"/>
<rect x="355.60" y="420.40" width="5.2" height="5.2" fill="none" stroke="#c3143a" stroke-width="1.0"/>
<rect x="360.90" y="430.40" width="5.2" height="5.2" fill="none" stroke="#c3143a" stroke-width="1.0"/>
<rect x="363.90" y="430.40" width="5.2" height="5.2" fill="none" stroke="#c3143a" stroke-width="1.0"/>
<rect x="366.90" y="430.40" width="5.2" height="5.2" fill="none" stroke="#c3143a" stroke-width="1.0"/>
<rect x="369.90" y="430.40" width="5.2" height="5.2" fill="none" stroke="#c3143a" stroke-width="1.0"/>
<rect x="372.90" y="430.40" width="5.2" height="5.2" fill="none" stroke="#c3143a" stroke-width="1.0"/>
<rect x="375.90" y="430.40" width="5.2" height="5.2" fill="none" stroke="#c3143a" stroke-width="1.0"/>
<rect x="378.20" y="430.40" width="5.2" height="5.2" fill="none" stroke="#c3143a" stroke-width="1.0"/>
<rect x="383.70" y="457.40" width="5.2" height="5.2" fill="none" stroke="#c3143a" stroke-width="1.0"/>
<rect x="400.40" y="531.70" width="5.2" height="5.2" fill="none" stroke="#c3143a" stroke-width="1.0"/>
<rect x="405.40" y="531.70" width="5.2" height="5.2" fill="none" stroke="#c3143a" stroke-width="1.0"/>
<text x="344.60" y="415.50" font-size="10.2" text-anchor="start" fill="#2b2b2b" stroke="#2b2b2b" stroke-width="0.2" textLength="26.2" lengthAdjust="spacingAndGlyphs" >95.2%</text>
<text x="308.80" y="442.00" font-size="10.2" text-anchor="start" fill="#2b2b2b" stroke="#2b2b2b" stroke-width="0.2" textLength="26.2" lengthAdjust="spacingAndGlyphs" >94.1%</text>
<text x="344.60" y="487.00" font-size="10.2" text-anchor="start" fill="#2b2b2b" stroke="#2b2b2b" stroke-width="0.2" textLength="26.2" lengthAdjust="spacingAndGlyphs" >69.0%</text>
<text x="344.60" y="513.00" font-size="10.2" text-anchor="start" fill="#2b2b2b" stroke="#2b2b2b" stroke-width="0.2" textLength="26.2" lengthAdjust="spacingAndGlyphs" >59.3%</text>
<text x="390.80" y="430.50" font-size="10.2" text-anchor="start" fill="#46a846" stroke="#46a846" stroke-width="0.2" textLength="70.8" lengthAdjust="spacingAndGlyphs" >R MRD-negative</text>
<text x="431.30" y="525.30" font-size="10.2" text-anchor="start" fill="#93c690" stroke="#93c690" stroke-width="0.2" textLength="67.2" lengthAdjust="spacingAndGlyphs" >R MRD-positive</text>
<text x="415.00" y="538.90" font-size="10.2" text-anchor="start" fill="#c3143a" stroke="#c3143a" stroke-width="0.2" textLength="82.0" lengthAdjust="spacingAndGlyphs" >D-R MRD-negative</text>
<text x="433.80" y="591.60" font-size="10.2" text-anchor="start" fill="#e5806c" stroke="#e5806c" stroke-width="0.2" textLength="78.2" lengthAdjust="spacingAndGlyphs" >D-R MRD-positive</text>
<text x="89.70" y="720.70" font-size="10.2" text-anchor="end" fill="#2b2b2b" stroke="#2b2b2b" stroke-width="0.2" textLength="44.2" lengthAdjust="spacingAndGlyphs" >No. at risk</text>
<text x="89.70" y="735.45" font-size="10.2" text-anchor="end" fill="#2b2b2b" stroke="#2b2b2b" stroke-width="0.2" textLength="71.0" lengthAdjust="spacingAndGlyphs" >R MRD-negative</text>
<text x="105.90" y="735.45" font-size="10.2" text-anchor="middle" fill="#2b2b2b" stroke="#2b2b2b" stroke-width="0.2" >19</text>
<text x="129.31" y="735.45" font-size="10.2" text-anchor="middle" fill="#2b2b2b" stroke="#2b2b2b" stroke-width="0.2" >19</text>
<text x="152.72" y="735.45" font-size="10.2" text-anchor="middle" fill="#2b2b2b" stroke="#2b2b2b" stroke-width="0.2" >19</text>
<text x="176.14" y="735.45" font-size="10.2" text-anchor="middle" fill="#2b2b2b" stroke="#2b2b2b" stroke-width="0.2" >19</text>
<text x="199.55" y="735.45" font-size="10.2" text-anchor="middle" fill="#2b2b2b" stroke="#2b2b2b" stroke-width="0.2" >17</text>
<text x="222.96" y="735.45" font-size="10.2" text-anchor="middle" fill="#2b2b2b" stroke="#2b2b2b" stroke-width="0.2" >17</text>
<text x="246.37" y="735.45" font-size="10.2" text-anchor="middle" fill="#2b2b2b" stroke="#2b2b2b" stroke-width="0.2" >15</text>
<text x="269.78" y="735.45" font-size="10.2" text-anchor="middle" fill="#2b2b2b" stroke="#2b2b2b" stroke-width="0.2" >13</text>
<text x="293.20" y="735.45" font-size="10.2" text-anchor="middle" fill="#2b2b2b" stroke="#2b2b2b" stroke-width="0.2" >11</text>
<text x="316.61" y="735.45" font-size="10.2" text-anchor="middle" fill="#2b2b2b" stroke="#2b2b2b" stroke-width="0.2" >9</text>
<text x="340.02" y="735.45" font-size="10.2" text-anchor="middle" fill="#2b2b2b" stroke="#2b2b2b" stroke-width="0.2" >8</text>
<text x="363.43" y="735.45" font-size="10.2" text-anchor="middle" fill="#2b2b2b" stroke="#2b2b2b" stroke-width="0.2" >4</text>
<text x="386.84" y="735.45" font-size="10.2" text-anchor="middle" fill="#2b2b2b" stroke="#2b2b2b" stroke-width="0.2" >0</text>
<text x="410.26" y="735.45" font-size="10.2" text-anchor="middle" fill="#2b2b2b" stroke="#2b2b2b" stroke-width="0.2" >0</text>
<text x="433.67" y="735.45" font-size="10.2" text-anchor="middle" fill="#2b2b2b" stroke="#2b2b2b" stroke-width="0.2" >0</text>
<text x="89.70" y="749.65" font-size="10.2" text-anchor="end" fill="#2b2b2b" stroke="#2b2b2b" stroke-width="0.2" textLength="67.6" lengthAdjust="spacingAndGlyphs" >R MRD-positive</text>
<text x="105.90" y="749.65" font-size="10.2" text-anchor="middle" fill="#2b2b2b" stroke="#2b2b2b" stroke-width="0.2" >82</text>
<text x="129.31" y="749.65" font-size="10.2" text-anchor="middle" fill="#2b2b2b" stroke="#2b2b2b" stroke-width="0.2" >69</text>
<text x="152.72" y="749.65" font-size="10.2" text-anchor="middle" fill="#2b2b2b" stroke="#2b2b2b" stroke-width="0.2" >67</text>
<text x="176.14" y="749.65" font-size="10.2" text-anchor="middle" fill="#2b2b2b" stroke="#2b2b2b" stroke-width="0.2" >59</text>
<text x="199.55" y="749.65" font-size="10.2" text-anchor="middle" fill="#2b2b2b" stroke="#2b2b2b" stroke-width="0.2" >54</text>
<text x="222.96" y="749.65" font-size="10.2" text-anchor="middle" fill="#2b2b2b" stroke="#2b2b2b" stroke-width="0.2" >45</text>
<text x="246.37" y="749.65" font-size="10.2" text-anchor="middle" fill="#2b2b2b" stroke="#2b2b2b" stroke-width="0.2" >41</text>
<text x="269.78" y="749.65" font-size="10.2" text-anchor="middle" fill="#2b2b2b" stroke="#2b2b2b" stroke-width="0.2" >35</text>
<text x="293.20" y="749.65" font-size="10.2" text-anchor="middle" fill="#2b2b2b" stroke="#2b2b2b" stroke-width="0.2" >32</text>
<text x="316.61" y="749.65" font-size="10.2" text-anchor="middle" fill="#2b2b2b" stroke="#2b2b2b" stroke-width="0.2" >25</text>
<text x="340.02" y="749.65" font-size="10.2" text-anchor="middle" fill="#2b2b2b" stroke="#2b2b2b" stroke-width="0.2" >19</text>
<text x="363.43" y="749.65" font-size="10.2" text-anchor="middle" fill="#2b2b2b" stroke="#2b2b2b" stroke-width="0.2" >16</text>
<text x="386.84" y="749.65" font-size="10.2" text-anchor="middle" fill="#2b2b2b" stroke="#2b2b2b" stroke-width="0.2" >2</text>
<text x="410.26" y="749.65" font-size="10.2" text-anchor="middle" fill="#2b2b2b" stroke="#2b2b2b" stroke-width="0.2" >1</text>
<text x="433.67" y="749.65" font-size="10.2" text-anchor="middle" fill="#2b2b2b" stroke="#2b2b2b" stroke-width="0.2" >0</text>
<text x="89.70" y="764.10" font-size="10.2" text-anchor="end" fill="#2b2b2b" stroke="#2b2b2b" stroke-width="0.2" textLength="81.4" lengthAdjust="spacingAndGlyphs" >D-R MRD-negative</text>
<text x="105.90" y="764.10" font-size="10.2" text-anchor="middle" fill="#2b2b2b" stroke="#2b2b2b" stroke-width="0.2" >50</text>
<text x="129.31" y="764.10" font-size="10.2" text-anchor="middle" fill="#2b2b2b" stroke="#2b2b2b" stroke-width="0.2" >50</text>
<text x="152.72" y="764.10" font-size="10.2" text-anchor="middle" fill="#2b2b2b" stroke="#2b2b2b" stroke-width="0.2" >50</text>
<text x="176.14" y="764.10" font-size="10.2" text-anchor="middle" fill="#2b2b2b" stroke="#2b2b2b" stroke-width="0.2" >50</text>
<text x="199.55" y="764.10" font-size="10.2" text-anchor="middle" fill="#2b2b2b" stroke="#2b2b2b" stroke-width="0.2" >46</text>
<text x="222.96" y="764.10" font-size="10.2" text-anchor="middle" fill="#2b2b2b" stroke="#2b2b2b" stroke-width="0.2" >45</text>
<text x="246.37" y="764.10" font-size="10.2" text-anchor="middle" fill="#2b2b2b" stroke="#2b2b2b" stroke-width="0.2" >42</text>
<text x="269.78" y="764.10" font-size="10.2" text-anchor="middle" fill="#2b2b2b" stroke="#2b2b2b" stroke-width="0.2" >38</text>
<text x="293.20" y="764.10" font-size="10.2" text-anchor="middle" fill="#2b2b2b" stroke="#2b2b2b" stroke-width="0.2" >34</text>
<text x="316.61" y="764.10" font-size="10.2" text-anchor="middle" fill="#2b2b2b" stroke="#2b2b2b" stroke-width="0.2" >32</text>
<text x="340.02" y="764.10" font-size="10.2" text-anchor="middle" fill="#2b2b2b" stroke="#2b2b2b" stroke-width="0.2" >28</text>
<text x="363.43" y="764.10" font-size="10.2" text-anchor="middle" fill="#2b2b2b" stroke="#2b2b2b" stroke-width="0.2" >23</text>
<text x="386.84" y="764.10" font-size="10.2" text-anchor="middle" fill="#2b2b2b" stroke="#2b2b2b" stroke-width="0.2" >3</text>
<text x="410.26" y="764.10" font-size="10.2" text-anchor="middle" fill="#2b2b2b" stroke="#2b2b2b" stroke-width="0.2" >0</text>
<text x="433.67" y="764.10" font-size="10.2" text-anchor="middle" fill="#2b2b2b" stroke="#2b2b2b" stroke-width="0.2" >0</text>
<text x="89.70" y="778.20" font-size="10.2" text-anchor="end" fill="#2b2b2b" stroke="#2b2b2b" stroke-width="0.2" textLength="78.0" lengthAdjust="spacingAndGlyphs" >D-R MRD-positive</text>
<text x="105.90" y="778.20" font-size="10.2" text-anchor="middle" fill="#2b2b2b" stroke="#2b2b2b" stroke-width="0.2" >49</text>
<text x="129.31" y="778.20" font-size="10.2" text-anchor="middle" fill="#2b2b2b" stroke="#2b2b2b" stroke-width="0.2" >43</text>
<text x="152.72" y="778.20" font-size="10.2" text-anchor="middle" fill="#2b2b2b" stroke="#2b2b2b" stroke-width="0.2" >40</text>
<text x="176.14" y="778.20" font-size="10.2" text-anchor="middle" fill="#2b2b2b" stroke="#2b2b2b" stroke-width="0.2" >37</text>
<text x="199.55" y="778.20" font-size="10.2" text-anchor="middle" fill="#2b2b2b" stroke="#2b2b2b" stroke-width="0.2" >35</text>
<text x="222.96" y="778.20" font-size="10.2" text-anchor="middle" fill="#2b2b2b" stroke="#2b2b2b" stroke-width="0.2" >33</text>
<text x="246.37" y="778.20" font-size="10.2" text-anchor="middle" fill="#2b2b2b" stroke="#2b2b2b" stroke-width="0.2" >30</text>
<text x="269.78" y="778.20" font-size="10.2" text-anchor="middle" fill="#2b2b2b" stroke="#2b2b2b" stroke-width="0.2" >27</text>
<text x="293.20" y="778.20" font-size="10.2" text-anchor="middle" fill="#2b2b2b" stroke="#2b2b2b" stroke-width="0.2" >25</text>
<text x="316.61" y="778.20" font-size="10.2" text-anchor="middle" fill="#2b2b2b" stroke="#2b2b2b" stroke-width="0.2" >22</text>
<text x="340.02" y="778.20" font-size="10.2" text-anchor="middle" fill="#2b2b2b" stroke="#2b2b2b" stroke-width="0.2" >18</text>
<text x="363.43" y="778.20" font-size="10.2" text-anchor="middle" fill="#2b2b2b" stroke="#2b2b2b" stroke-width="0.2" >15</text>
<text x="386.84" y="778.20" font-size="10.2" text-anchor="middle" fill="#2b2b2b" stroke="#2b2b2b" stroke-width="0.2" >3</text>
<text x="410.26" y="778.20" font-size="10.2" text-anchor="middle" fill="#2b2b2b" stroke="#2b2b2b" stroke-width="0.2" >1</text>
<text x="433.67" y="778.20" font-size="10.2" text-anchor="middle" fill="#2b2b2b" stroke="#2b2b2b" stroke-width="0.2" >0</text>
<rect x="0.5" y="0.5" width="519" height="787" fill="none" stroke="#3a3a3a" stroke-width="1"/>
</svg>
</body></html>
